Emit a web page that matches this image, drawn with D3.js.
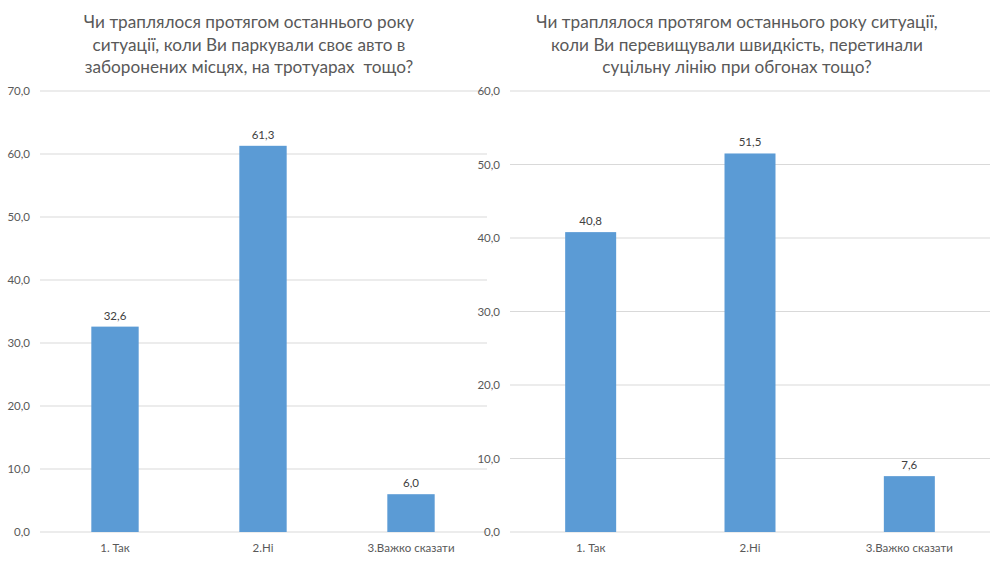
<!DOCTYPE html>
<html><head><meta charset="utf-8">
<script src="https://cdn.jsdelivr.net/npm/d3@7"></script>
<style>body{margin:0;background:#fff}svg{display:block}text{font-family:Lato,"Open Sans",sans-serif}</style>
</head><body><svg id="c" width="1000" height="562"></svg>
<script>
const categories = ["1. Так", "2.Ні", "3.Важко сказати"];
const valuesParking = [32.6, 61.3, 6.0];
const valuesSpeeding = [40.8, 51.5, 7.6];
const ticksParking = [0, 10, 20, 30, 40, 50, 60, 70];
const ticksSpeeding = [0, 10, 20, 30, 40, 50, 60];
const titleParking = ["Чи траплялося протягом останнього року", "ситуації, коли Ви паркували своє авто в", "заборонених місцях, на тротуарах  тощо?"];
const titleSpeeding = ["Чи траплялося протягом останнього року ситуації,", "коли Ви перевищували швидкість, перетинали", "суцільну лінію при обгонах тощо?"];

const svg = d3.select("#c");
const fmt = v => d3.format(".1f")(v).replace(".", ",");

function panel(cfg) {
  const g = svg.append("g");
  const y = d3.scaleLinear().domain([0, cfg.max]).range([532, 91]);
  const x = d3.scaleBand().domain(categories).range(cfg.band).paddingInner(0.68).paddingOuter(0.34);
  g.selectAll("line.grid").data(cfg.ticks).join("line")
    .attr("x1", cfg.grid[0]).attr("x2", cfg.grid[1])
    .attr("y1", d => y(d)).attr("y2", d => y(d))
    .attr("stroke", "#d9d9d9").attr("stroke-width", 1);
  g.selectAll("text.yl").data(cfg.ticks).join("text")
    .attr("x", cfg.labelX).attr("y", d => y(d) + 4)
    .attr("text-anchor", "end").attr("font-size", 11.5).attr("fill", "#595959")
    .text(fmt);
  g.selectAll("rect").data(cfg.values).join("rect")
    .attr("x", (d, i) => x(categories[i])).attr("width", x.bandwidth())
    .attr("y", d => y(d)).attr("height", d => y(0) - y(d))
    .attr("fill", "#5b9bd5");
  g.selectAll("text.vl").data(cfg.values).join("text")
    .attr("x", (d, i) => x(categories[i]) + x.bandwidth() / 2).attr("y", d => y(d) - 7)
    .attr("text-anchor", "middle").attr("font-size", 11.5).attr("fill", "#404040")
    .text(fmt);
  g.selectAll("text.cl").data(categories).join("text")
    .attr("x", d => x(d) + x.bandwidth() / 2).attr("y", 552)
    .attr("text-anchor", "middle").attr("font-size", 11.5).attr("fill", "#595959")
    .text(d => d);
  g.selectAll("text.t").data(cfg.title).join("text")
    .attr("x", cfg.titleX).attr("y", (d, i) => 28 + i * 22.5)
    .attr("text-anchor", "middle").attr("font-size", 17.2).attr("fill", "#595959")
    .attr("xml:space", "preserve").style("white-space", "pre")
    .text(d => d);
}

panel({values: valuesParking, ticks: ticksParking, max: 70, band: [41, 485], grid: [40, 487], labelX: 30, title: titleParking, titleX: 249});
panel({values: valuesSpeeding, ticks: ticksSpeeding, max: 60, band: [511, 989], grid: [510, 990], labelX: 500, title: titleSpeeding, titleX: 737});
</script></body></html>
